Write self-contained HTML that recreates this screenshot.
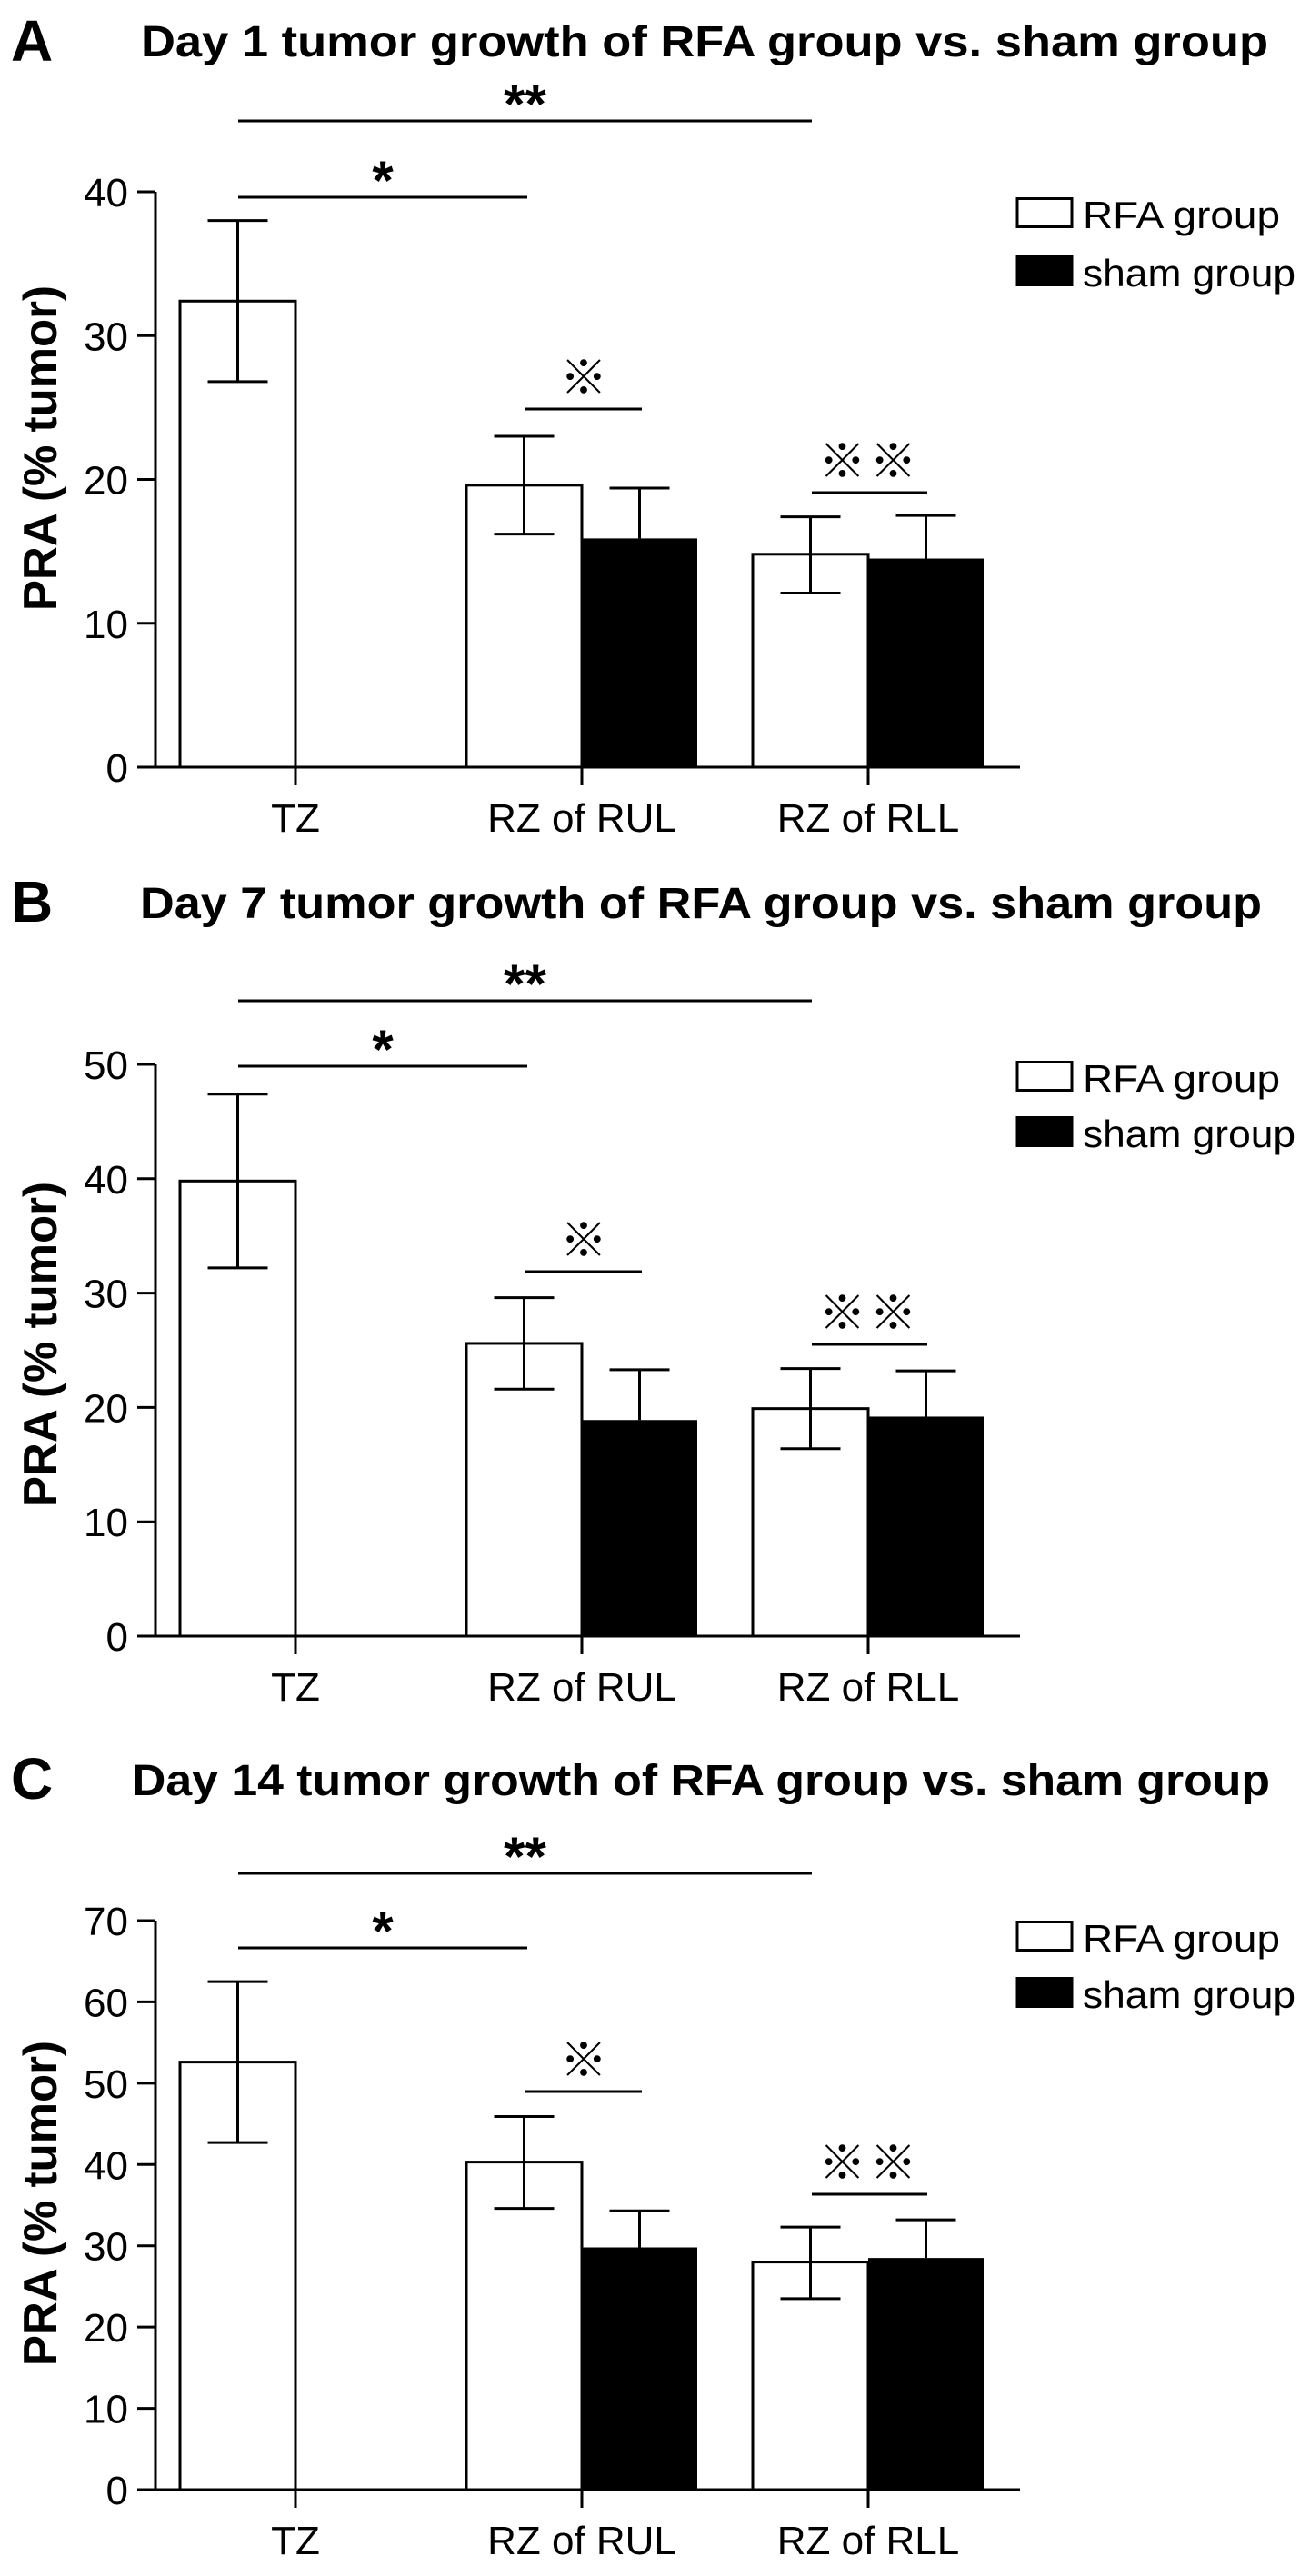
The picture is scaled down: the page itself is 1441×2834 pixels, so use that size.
<!DOCTYPE html>
<html><head><meta charset="utf-8"><style>
html,body{margin:0;padding:0;background:#fff}
svg{display:block}
text{font-family:"Liberation Sans","Noto Sans CJK JP",sans-serif;fill:#000}
</style></head><body>
<svg id="fig" width="1441" height="2834" viewBox="0 0 1441 2834" xmlns="http://www.w3.org/2000/svg"></svg>
<script>
// ---- data ----
const categories = ["TZ", "RZ of RUL", "RZ of RLL"];
const panelLetters = ["A", "B", "C"];
const panelTitles = ["Day 1  tumor growth of RFA group vs. sham group",
                     "Day 7  tumor growth of RFA group vs. sham group",
                     "Day 14 tumor growth of RFA group vs. sham group"];
const yMaxA = 40, yMaxB = 50, yMaxC = 70;
const ticksA = [0, 10, 20, 30, 40];
const ticksB = [0, 10, 20, 30, 40, 50];
const ticksC = [0, 10, 20, 30, 40, 50, 60, 70];
// RFA group means / SEM lows / highs
const rfaA = [32.4, 19.6, 14.8];
const rfaLoA = [26.8, 16.2, 12.1];
const rfaHiA = [38.0, 23.0, 17.4];
const shamA = [null, 15.9, 14.5];
const shamHiA = [null, 19.4, 17.5];
const rfaB = [39.8, 25.6, 19.9];
const rfaLoB = [32.2, 21.6, 16.4];
const rfaHiB = [47.4, 29.6, 23.4];
const shamB = [null, 18.9, 19.2];
const shamHiB = [null, 23.3, 23.2];
const rfaC = [52.6, 40.3, 28.0];
const rfaLoC = [42.7, 34.6, 23.5];
const rfaHiC = [62.5, 45.9, 32.3];
const shamC = [null, 29.8, 28.5];
const shamHiC = [null, 34.3, 33.2];
const legendLabels = ["RFA group", "sham group"];

const NS = "http://www.w3.org/2000/svg";
const svg = document.getElementById("fig");
function mk(tag, attrs, parent, txt) {
  const e = document.createElementNS(NS, tag);
  for (const k in attrs) e.setAttribute(k, attrs[k]);
  if (txt !== undefined) e.textContent = txt;
  (parent || svg).appendChild(e);
  return e;
}

const panels = [
  {y0:844, yTop:211, yMax:yMaxA, ticks:ticksA, rfa:rfaA, lo:rfaLoA, hi:rfaHiA, sham:shamA, shamHi:shamHiA,
   titleY:62, titleX:155, titleW:1240, letterY:67, legY:[217,281], lines:[133,217,450,542], xlabY:915, ylabC:493},
  {y0:1800, yTop:1171, yMax:yMaxB, ticks:ticksB, rfa:rfaB, lo:rfaLoB, hi:rfaHiB, sham:shamB, shamHi:shamHiB,
   titleY:1010, titleX:154, titleW:1234, letterY:1014, legY:[1167,1228], lines:[1101,1173,1399,1479], xlabY:1871, ylabC:1479},
  {y0:2739, yTop:2113, yMax:yMaxC, ticks:ticksC, rfa:rfaC, lo:rfaLoC, hi:rfaHiC, sham:shamC, shamHi:shamHiC,
   titleY:1975, titleX:145, titleW:1252, letterY:1979, legY:[2113,2175], lines:[2061,2143,2301,2414], xlabY:2810, ylabC:2424}
];

const axisX = 171, axisRight = 1122;
const groupX = [325, 640, 955];
const barW = 127;

panels.forEach((p, pi) => {
  const g = mk("g", {});
  
  
  const y = v => p.y0 - (v / p.yMax) * (p.y0 - p.yTop);

  const L = mk("text", {x:12, y:p.letterY, "font-size":64, "font-weight":"bold"}, g, panelLetters[pi]);
  
  
  const T = mk("text", {x:p.titleX, y:p.titleY, "font-size":48, "font-weight":"bold", textLength:p.titleW, lengthAdjust:"spacingAndGlyphs"}, g, panelTitles[pi]);
  
  

  const ya = mk("line", {x1:axisX, y1:p.yTop, x2:axisX, y2:p.y0, stroke:"#000", "stroke-width":3}, g);
  
  
  p.ticks.forEach(t => {
    const tl = mk("line", {x1:151, y1:y(t), x2:axisX, y2:y(t), stroke:"#000", "stroke-width":3}, g);
    
    
    const tt = mk("text", {x:141, y:y(t)+16, "font-size":44, "text-anchor":"end"}, g, String(t));
    
    
  });
  const yl = mk("text", {x:0, y:0, "font-size":52, "font-weight":"bold", "text-anchor":"middle",
    textLength:358, lengthAdjust:"spacingAndGlyphs",
    transform:`translate(62,${p.ylabC}) rotate(-90)`}, g, "PRA (% tumor)");
  
  

  categories.forEach((c, i) => {
    const gx = groupX[i];
    const r = mk("rect", {x:gx-barW, y:y(p.rfa[i]), width:barW, height:p.y0-y(p.rfa[i]), fill:"#fff", stroke:"#000", "stroke-width":3}, g);
    
    
    const cx = gx - barW/2;
    const eb = mk("path", {d:`M${cx},${y(p.hi[i])}V${y(p.lo[i])}M${cx-33},${y(p.hi[i])}h66M${cx-33},${y(p.lo[i])}h66`, stroke:"#000", "stroke-width":3, fill:"none"}, g);
    
    
    if (p.sham[i] !== null) {
      const s = mk("rect", {x:gx, y:y(p.sham[i]), width:barW, height:p.y0-y(p.sham[i]), fill:"#000"}, g);
      
      
      const sx = gx + barW/2;
      const se = mk("path", {d:`M${sx},${y(p.shamHi[i])}V${y(p.sham[i])}M${sx-33},${y(p.shamHi[i])}h66`, stroke:"#000", "stroke-width":3, fill:"none"}, g);
      
      
    }
    const xt = mk("line", {x1:gx, y1:p.y0, x2:gx, y2:p.y0+20, stroke:"#000", "stroke-width":3}, g);
    
    
    const xl = mk("text", {x:gx, y:p.xlabY, "font-size":44, "text-anchor":"middle"}, g, c);
    
    
  });
  const xa = mk("line", {x1:axisX, y1:p.y0, x2:axisRight, y2:p.y0, stroke:"#000", "stroke-width":3}, g);
  
  

  const sig = [[262,893,"**",true],[262,580,"*",true],[578,706,"※",false],[893,1020,"※※",false]];
  sig.forEach((s, k) => {
    const ly = p.lines[k];
    const sl = mk("line", {x1:s[0], y1:ly, x2:s[1], y2:ly, stroke:"#000", "stroke-width":3}, g);
    
    
    const st = s[3]
      ? mk("text", {x:(s[0]+s[1])/2, y:ly+2, "font-size":60, "font-weight":"bold", "text-anchor":"middle"}, g, s[2])
      : mk("text", {x:(s[0]+s[1])/2, y:ly-16, "font-size":52, "text-anchor":"middle", "letter-spacing":s[2].length>1?4:0}, g, s[2]);
    
    
  });

  legendLabels.forEach((lab, k) => {
    const ly = p.legY[k];
    const b = mk("rect", {x:1119, y:ly+1.5, width:60, height:31, fill:k===0?"#fff":"#000", stroke:"#000", "stroke-width":3}, g);
    
    
    const lt = mk("text", {x:1191, y:ly+34, "font-size":42, textLength:k===0?217:234, lengthAdjust:"spacingAndGlyphs"}, g, lab);
    
    
  });
});
</script>
</body></html>
